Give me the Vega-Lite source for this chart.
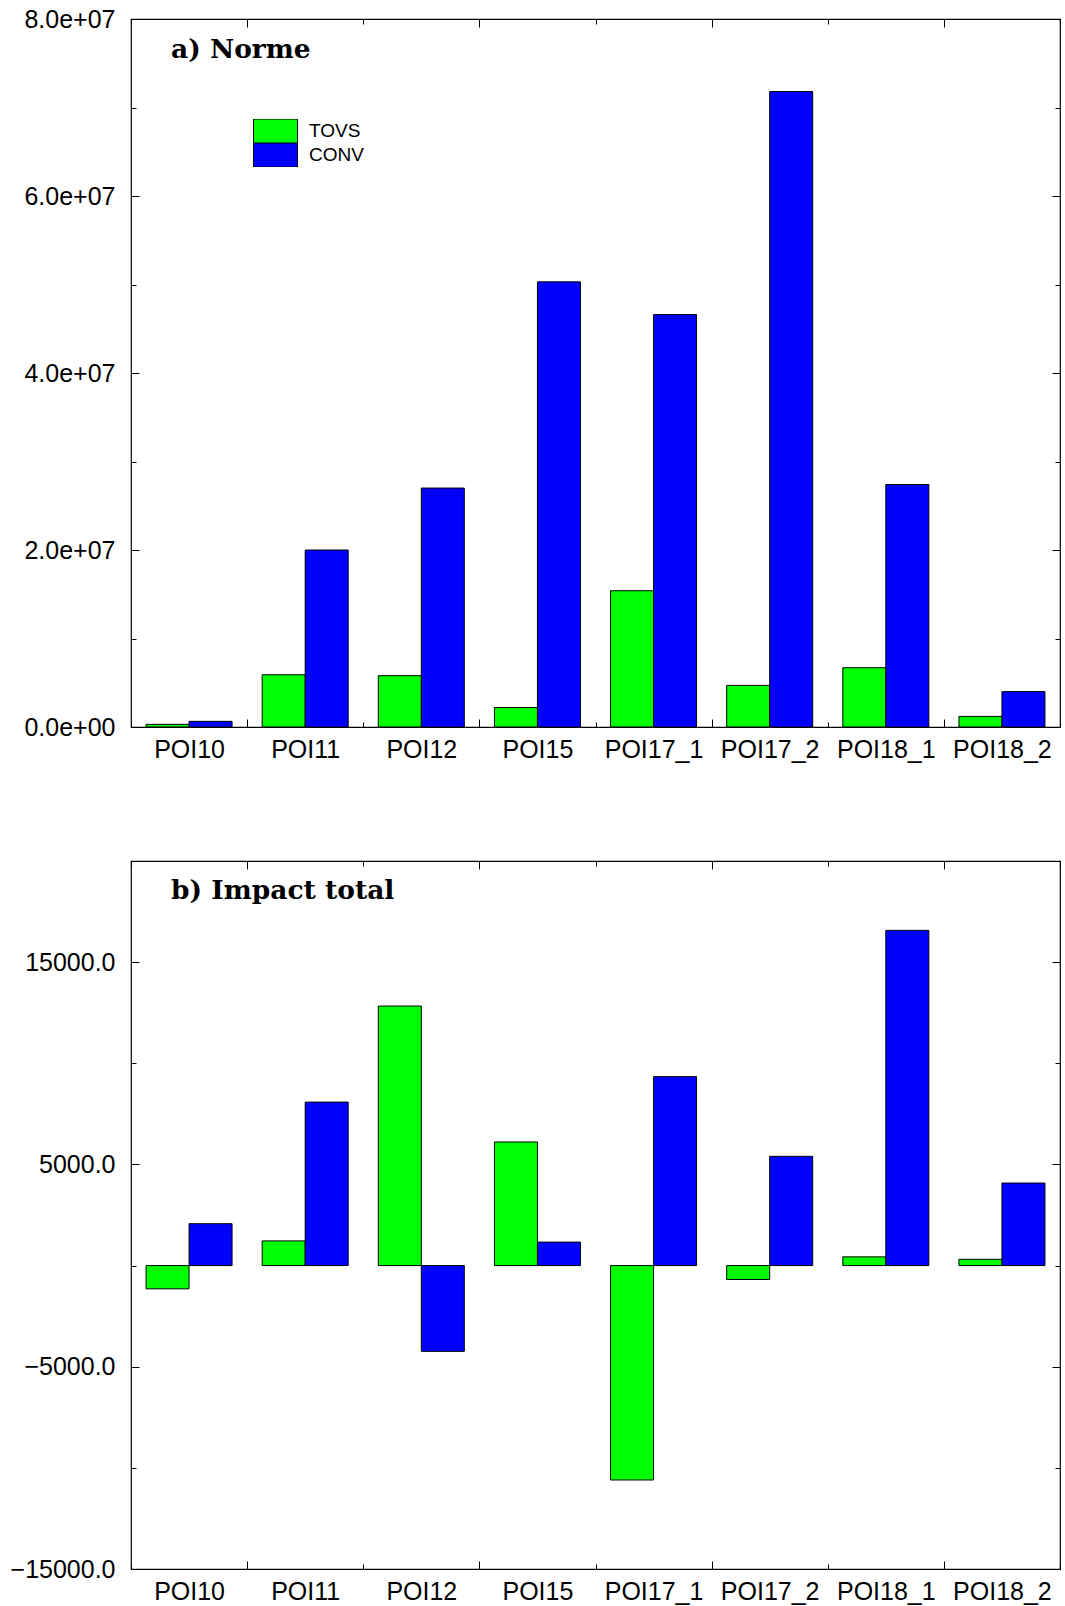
{
  "$schema": "https://vega.github.io/schema/vega-lite/v6.json",
  "background": "white",
  "padding": {"left": 9, "top": 6, "right": 6, "bottom": 0},
  "bounds": "flush",
  "spacing": 134,
  "config": {
    "font": "Liberation Sans",
    "view": {"stroke": "black", "strokeWidth": 1.2},
    "axis": {
      "domain": false,
      "grid": false,
      "labelFont": "Liberation Sans",
      "labelFontSize": 25,
      "labelColor": "black",
      "tickColor": "black",
      "tickWidth": 1,
      "title": null
    },
    "legend": {
      "labelFont": "Liberation Sans",
      "labelFontSize": 19,
      "labelColor": "black",
      "padding": 0,
      "offset": 0,
      "rowPadding": 0,
      "clipHeight": 24,
      "symbolType": "M-1,-0.545H1V0.545H-1Z",
      "symbolSize": 1936,
      "symbolStrokeColor": "black",
      "symbolStrokeWidth": 1,
      "symbolOpacity": 1,
      "labelOffset": 11
    },
    "title": {
      "font": "DejaVu Serif",
      "fontWeight": "bold",
      "fontSize": 26.5,
      "color": "black",
      "anchor": "start",
      "frame": "group",
      "baseline": "alphabetic",
      "offset": 0
    }
  },
  "datasets": {
    "norme": [
      {"poi": "POI10", "serie": "TOVS", "valeur": 300000},
      {"poi": "POI10", "serie": "CONV", "valeur": 640000},
      {"poi": "POI11", "serie": "TOVS", "valeur": 5900000},
      {"poi": "POI11", "serie": "CONV", "valeur": 20000000},
      {"poi": "POI12", "serie": "TOVS", "valeur": 5800000},
      {"poi": "POI12", "serie": "CONV", "valeur": 27000000},
      {"poi": "POI15", "serie": "TOVS", "valeur": 2200000},
      {"poi": "POI15", "serie": "CONV", "valeur": 50300000},
      {"poi": "POI17_1", "serie": "TOVS", "valeur": 15400000},
      {"poi": "POI17_1", "serie": "CONV", "valeur": 46600000},
      {"poi": "POI17_2", "serie": "TOVS", "valeur": 4700000},
      {"poi": "POI17_2", "serie": "CONV", "valeur": 71800000},
      {"poi": "POI18_1", "serie": "TOVS", "valeur": 6700000},
      {"poi": "POI18_1", "serie": "CONV", "valeur": 27400000},
      {"poi": "POI18_2", "serie": "TOVS", "valeur": 1200000},
      {"poi": "POI18_2", "serie": "CONV", "valeur": 4000000}
    ],
    "impact": [
      {"poi": "POI10", "serie": "TOVS", "valeur": -1150},
      {"poi": "POI10", "serie": "CONV", "valeur": 2070},
      {"poi": "POI11", "serie": "TOVS", "valeur": 1220},
      {"poi": "POI11", "serie": "CONV", "valeur": 8080},
      {"poi": "POI12", "serie": "TOVS", "valeur": 12830},
      {"poi": "POI12", "serie": "CONV", "valeur": -4240},
      {"poi": "POI15", "serie": "TOVS", "valeur": 6110},
      {"poi": "POI15", "serie": "CONV", "valeur": 1160},
      {"poi": "POI17_1", "serie": "TOVS", "valeur": -10600},
      {"poi": "POI17_1", "serie": "CONV", "valeur": 9340},
      {"poi": "POI17_2", "serie": "TOVS", "valeur": -690},
      {"poi": "POI17_2", "serie": "CONV", "valeur": 5400},
      {"poi": "POI18_1", "serie": "TOVS", "valeur": 430},
      {"poi": "POI18_1", "serie": "CONV", "valeur": 16570},
      {"poi": "POI18_2", "serie": "TOVS", "valeur": 310},
      {"poi": "POI18_2", "serie": "CONV", "valeur": 4080}
    ]
  },
  "vconcat": [
    {
      "width": 929,
      "height": 708,
      "data": {"name": "norme"},
      "title": {"text": "a)  Norme", "dx": 40, "dy": 60},
      "resolve": {"axis": {"x": "independent", "y": "independent"}},
      "layer": [
        {
          "mark": {"type": "bar", "stroke": "black", "strokeWidth": 1},
          "encoding": {
            "x": {
              "field": "poi", "type": "nominal", "sort": null,
              "scale": {"paddingInner": 0, "paddingOuter": 0},
              "axis": {
                "orient": "bottom", "labelAngle": 0, "tickBand": "extent",
                "labelPadding": {"condition": {"test": "indexof(['POI10','POI12','POI17_1','POI18_1'], datum.value) >= 0", "value": 18}, "value": 15},
                "tickSize": {"condition": {"test": "indexof(['POI10','POI12','POI17_1','POI18_1'], datum.value) >= 0", "value": -8}, "value": -5}
              }
            },
            "xOffset": {
              "field": "serie", "type": "nominal", "sort": ["TOVS", "CONV"],
              "scale": {"paddingInner": 0, "paddingOuter": 0.35}
            },
            "y": {
              "field": "valeur", "type": "quantitative",
              "scale": {"domain": [0, 80000000], "nice": false, "zero": true},
              "axis": {
                "orient": "left",
                "values": [0, 10000000, 20000000, 30000000, 40000000, 50000000, 60000000, 70000000, 80000000],
                "labelPadding": 24,
                "labelExpr": "datum.value % 20000000 == 0 ? (datum.value == 0 ? '0.0e+00' : format(datum.value / 10000000, '.1f') + 'e+07') : ''",
                "tickSize": {"condition": {"test": "datum.value % 20000000 == 0", "value": -8}, "value": -5}
              }
            },
            "color": {
              "field": "serie", "type": "nominal",
              "scale": {"domain": ["TOVS", "CONV"], "range": ["#00ff00", "#0000ff"]},
              "legend": {"orient": "none", "legendX": 122, "legendY": 100, "title": null}
            }
          }
        },
        {
          "mark": {"type": "bar", "opacity": 0},
          "encoding": {
            "x": {
              "field": "poi", "type": "nominal", "sort": null,
              "axis": {
                "orient": "top", "labels": false, "tickBand": "extent",
                "tickSize": {"condition": {"test": "indexof(['POI10','POI12','POI17_1','POI18_1'], datum.value) >= 0", "value": -8}, "value": -5}
              }
            },
            "y": {
              "field": "valeur", "type": "quantitative",
              "axis": {
                "orient": "right", "labels": false,
                "values": [0, 10000000, 20000000, 30000000, 40000000, 50000000, 60000000, 70000000, 80000000],
                "tickSize": {"condition": {"test": "datum.value % 20000000 == 0", "value": -8}, "value": -5}
              }
            }
          }
        }
      ]
    },
    {
      "width": 929,
      "height": 708,
      "data": {"name": "impact"},
      "title": {"text": "b)  Impact total", "dx": 40, "dy": 48},
      "resolve": {"axis": {"x": "independent", "y": "independent"}},
      "layer": [
        {
          "mark": {"type": "bar", "stroke": "black", "strokeWidth": 1},
          "encoding": {
            "x": {
              "field": "poi", "type": "nominal", "sort": null,
              "scale": {"paddingInner": 0, "paddingOuter": 0},
              "axis": {
                "orient": "bottom", "labelAngle": 0, "tickBand": "extent",
                "labelPadding": {"condition": {"test": "indexof(['POI10','POI12','POI17_1','POI18_1'], datum.value) >= 0", "value": 18}, "value": 15},
                "tickSize": {"condition": {"test": "indexof(['POI10','POI12','POI17_1','POI18_1'], datum.value) >= 0", "value": -8}, "value": -5}
              }
            },
            "xOffset": {
              "field": "serie", "type": "nominal", "sort": ["TOVS", "CONV"],
              "scale": {"paddingInner": 0, "paddingOuter": 0.35}
            },
            "y": {
              "field": "valeur", "type": "quantitative",
              "scale": {"domain": [-15000, 20000], "nice": false, "zero": false},
              "axis": {
                "orient": "left",
                "values": [-15000, -10000, -5000, 0, 5000, 10000, 15000, 20000],
                "labelPadding": 24,
                "labelExpr": "(datum.value + 15000) % 10000 == 0 && datum.value < 20000 ? format(datum.value, '.1f') : ''",
                "tickSize": {"condition": {"test": "(datum.value + 15000) % 10000 == 0", "value": -8}, "value": -5}
              }
            },
            "color": {
              "field": "serie", "type": "nominal",
              "scale": {"domain": ["TOVS", "CONV"], "range": ["#00ff00", "#0000ff"]},
              "legend": {"orient": "none", "legendX": 136, "legendY": 73, "title": null}
            }
          }
        },
        {
          "mark": {"type": "bar", "opacity": 0},
          "encoding": {
            "x": {
              "field": "poi", "type": "nominal", "sort": null,
              "axis": {
                "orient": "top", "labels": false, "tickBand": "extent",
                "tickSize": {"condition": {"test": "indexof(['POI10','POI12','POI17_1','POI18_1'], datum.value) >= 0", "value": -8}, "value": -5}
              }
            },
            "y": {
              "field": "valeur", "type": "quantitative",
              "axis": {
                "orient": "right", "labels": false,
                "values": [-15000, -10000, -5000, 0, 5000, 10000, 15000, 20000],
                "tickSize": {"condition": {"test": "(datum.value + 15000) % 10000 == 0", "value": -8}, "value": -5}
              }
            }
          }
        }
      ]
    }
  ]
}
